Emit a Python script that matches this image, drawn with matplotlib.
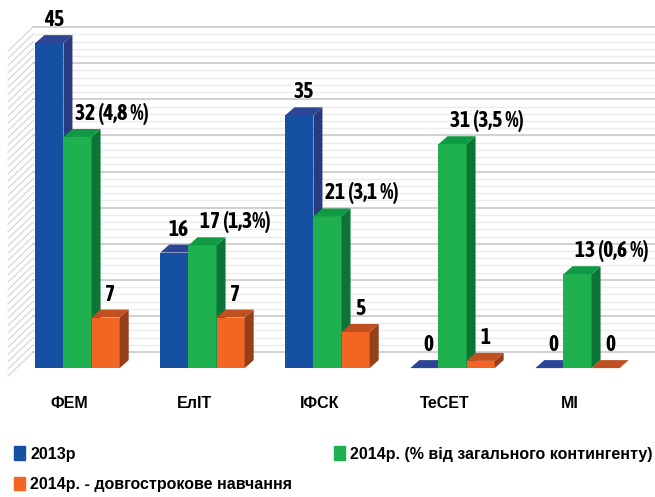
import numpy as np
import matplotlib
matplotlib.use("Agg")
import matplotlib.pyplot as plt
from matplotlib.patches import Polygon, Patch

# data
faculties = ["ФЕМ", "ЕлІТ", "ІФСК", "ТеСЕТ", "МІ"]
y2013 = [45, 16, 35, 0, 0]
y2014 = [32, 17, 21, 31, 13]
y2014_pct = ["4,8 %", "1,3%", "3,1 %", "3,5 %", "0,6 %"]
y2014_long = [7, 7, 5, 1, 0]
series_names = ["2013р", "2014р. (% від загального контингенту)",
                "2014р. - довгострокове навчання"]

plt.rcParams['font.family'] = ['Liberation Sans', 'DejaVu Sans']
plt.rcParams['font.weight'] = 'bold'
num_font = ['Asap Condensed', 'Liberation Sans']

# colours: front, top, side
cols = [("#1550a3", "#2d4595", "#283a80"),
        ("#1fb14f", "#109a43", "#0c7437"),
        ("#f26522", "#c0501f", "#96401b")]

W, H = 655, 497
fig = plt.figure(figsize=(W / 100, H / 100), dpi=100)
ylo, yhi = -2.2, 50
xlo, xhi = -0.62, 4.62
ax = fig.add_axes([0.0, (H - 384) / H, 1.0, (384 - 7) / H])
ax.set_xlim(xlo, xhi)
ax.set_ylim(ylo, yhi)
ax.axis("off")

pxx = (xhi - xlo) / W
pxy = (yhi - ylo) / 377

# back wall with stripes
back_dy = 16 * pxy
back_x0 = xlo + 33 * pxx
wall_front_x = xlo + 8 * pxx
wall_drop = 24 * pxy
for v in range(0, 46):
    major = v % 5 == 0
    c = "#c9c9c9" if major else "#ececec"
    lw = 1.2 if major else 1.0
    ax.plot([back_x0, xhi], [v + back_dy, v + back_dy], color=c, lw=lw, zorder=1)
    ax.plot([wall_front_x, back_x0], [v + back_dy - wall_drop, v + back_dy],
            color="#d4d4d4", lw=0.8, zorder=1)

# bars
w = 0.225
ddx, ddy = 9 * pxx, 8 * pxy
x = np.arange(len(faculties))
offsets = [-w, 0, w]
all_series = [y2013, y2014, y2014_long]
for i in range(len(faculties)):
    for k, vals in enumerate(all_series):
        h = vals[i]
        c = x[i] + offsets[k]
        fr, tp, sd = cols[k]
        z = 3 + i * 3 + k
        l, r = c - w / 2, c + w / 2
        if h > 0:
            ax.bar(c, h, width=w, color=fr, zorder=z, linewidth=0)
        ax.add_patch(Polygon([(r, 0), (r + ddx, ddy), (r + ddx, h + ddy), (r, h)],
                             closed=True, color=sd, lw=0, zorder=z))
        ax.add_patch(Polygon([(l, h), (r, h), (r + ddx, h + ddy), (l + ddx, h + ddy)],
                             closed=True, color=tp, lw=0, zorder=z))

# value labels
lab_gap = 9 * pxy
fs = 15.5
for i in range(len(faculties)):
    ax.text(x[i] - w + ddx / 2, y2013[i] + ddy + lab_gap, str(y2013[i]),
            ha="center", va="baseline", fontsize=fs, family=num_font, zorder=30)
    ax.text(x[i] - 2 * pxx, y2014[i] + ddy + lab_gap,
            f"{y2014[i]} ({y2014_pct[i]})",
            ha="left", va="baseline", fontsize=fs, family=num_font, zorder=30)
    ax.text(x[i] + w + ddx / 2, y2014_long[i] + ddy + lab_gap, str(y2014_long[i]),
            ha="center", va="baseline", fontsize=fs, family=num_font, zorder=30)
    ax.text(x[i] - 8 * pxx, -35 * pxy, faculties[i], ha="center", va="center",
            fontsize=11.5)

# legend
handles = [Patch(color=cols[0][0], label=series_names[0]),
           Patch(color=cols[2][0], label=series_names[2]),
           Patch(color=cols[1][0], label=series_names[1])]
fig.legend(handles=handles, ncol=2, loc="upper left",
           bbox_to_anchor=(0.012, (H - 440) / H), frameon=False,
           prop={"size": 11.5, "weight": "bold"},
           handlelength=0.7, handleheight=0.9, handletextpad=0.3,
           columnspacing=2.6, labelspacing=0.95, borderaxespad=0)

fig.savefig("out.png", dpi=100)
